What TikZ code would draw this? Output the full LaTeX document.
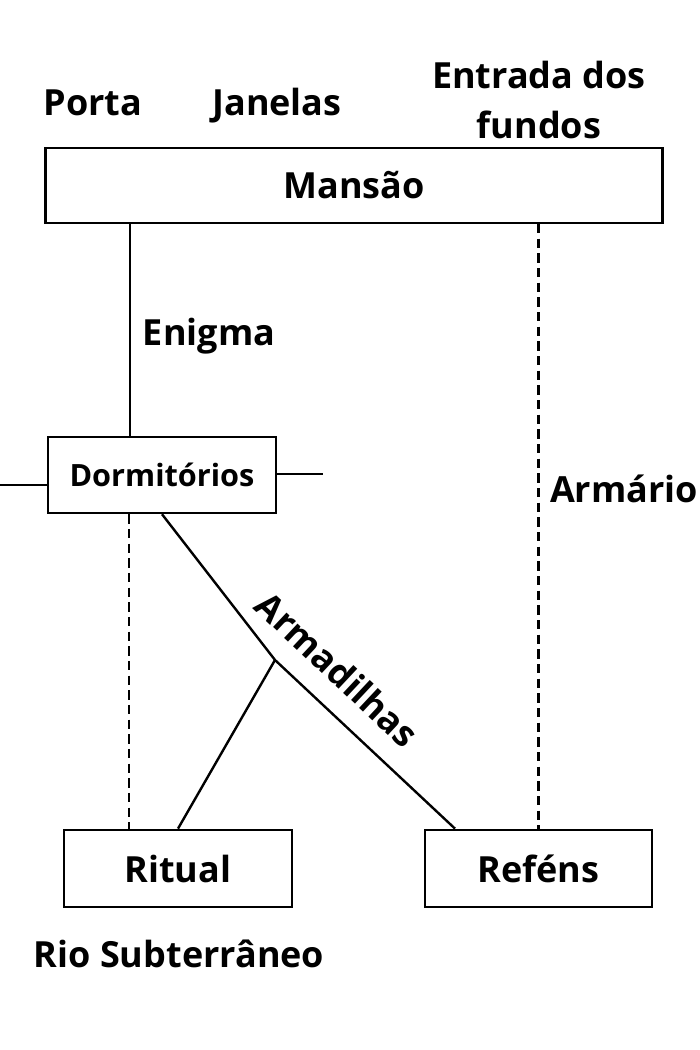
\documentclass[tikz,border=0pt]{standalone}
\usepackage{fontspec}
\setmainfont{Open Sans}
\begin{document}
\begin{tikzpicture}[x=0.75pt, y=-0.75pt, line width=1.8pt,
    font=\bfseries\fontsize{27}{32}\selectfont,
    box/.style={draw, rectangle, inner sep=0pt}]
  \useasboundingbox (0,0) rectangle (700,1050);
  \node[box, minimum width=463pt, minimum height=56pt] at (354,185.5) (mansao) {Mansão};
  \node[box, minimum width=171pt, minimum height=57pt, font=\bfseries\fontsize{23}{27}\selectfont] at (162,475) (dorm) {Dormitórios};
  \node[box, minimum width=171pt, minimum height=58pt] at (178,868.5) (ritual) {Ritual};
  \node[box, minimum width=170pt, minimum height=58pt] at (538.5,868.5) (refens) {Reféns};
  \node at (93,103) (porta) {Porta};
  \node at (277,106) (janelas) {Janelas};
  \node[align=center, font=\bfseries\fontsize{27}{38}\selectfont] at (539,100) (fundos) {Entrada dos\\fundos};
  \node at (209,336) (enigma) {Enigma};
  \node at (624,489) (armario) {Armário};
  \node at (179,954) (rio) {Rio Subterrâneo};
  \coordinate (esq) at (0,485);
  \coordinate (dir) at (323,474);
  \coordinate (junc) at (275,660);
  \draw (mansao.south -| 130,0) -- (dorm.north -| 130,0);
  \draw[dashed, dash pattern=on 7pt off 4pt] (mansao.south -| refens) -- (refens.north);
  \draw (esq) -- (dorm.west |- esq);
  \draw (dorm.east |- dir) -- (dir);
  \draw[dashed, dash pattern=on 7pt off 4pt] (dorm.south -| 129,0) -- (ritual.north -| 129,0);
  \draw (dorm.south) -- (junc) -- (refens.north -| 455,0) node[pos=0.21, sloped, above=27pt, anchor=center] (armadilhas) {Armadilhas};
  \draw (junc) -- (ritual.north);
\end{tikzpicture}
\end{document}
